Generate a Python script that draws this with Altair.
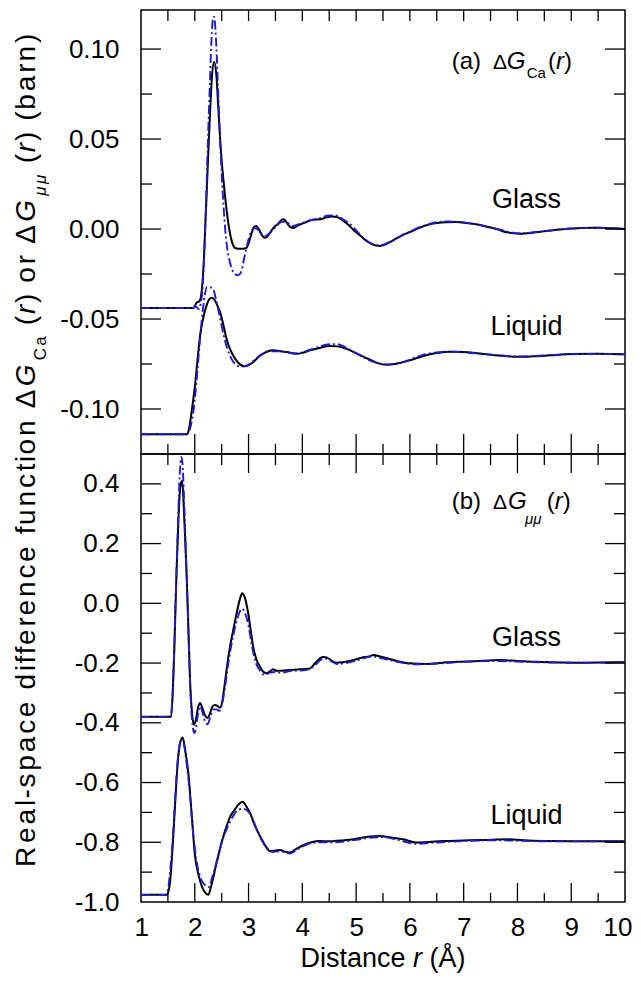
import altair as alt
import pandas as pd

# ---------------- data ----------------
# Panel (a): Delta G_Ca(r)
a_glass_r = [1.00, 1.98, 2.03, 2.09, 2.13, 2.16, 2.20, 2.24, 2.28, 2.32, 2.36, 2.40, 2.44, 2.48, 2.53, 2.59,
             2.64, 2.69, 2.75, 2.85, 2.96, 3.02, 3.06, 3.10, 3.14, 3.19, 3.24, 3.30, 3.34, 3.40, 3.46, 3.55,
             3.62, 3.66, 3.70, 3.78, 3.84, 3.92, 4.00, 4.10, 4.20, 4.33, 4.45, 4.55, 4.65, 4.75, 4.85, 4.95,
             5.07, 5.20, 5.30, 5.44, 5.55, 5.69, 5.85, 6.00, 6.20, 6.43, 6.65, 6.87, 7.05, 7.24, 7.43, 7.61,
             7.80, 8.04, 8.25, 8.48, 8.70, 8.97, 9.20, 9.47, 9.75, 10.0]
a_glass_v = [-0.0439, -0.0439, -0.041, -0.040, -0.034, -0.022, 0.005, 0.034, 0.062, 0.085, 0.093, 0.086,
             0.066, 0.046, 0.028, 0.011, 0.000, -0.007, -0.0105, -0.011, -0.0105, -0.006, -0.002, 0.001,
             0.0017, 0.000, -0.003, -0.0048, -0.0045, -0.002, 0.0005, 0.003, 0.0052, 0.0055, 0.004, 0.001,
             0.0006, 0.002, 0.003, 0.0042, 0.0052, 0.0054, 0.0065, 0.0070, 0.0066, 0.0048, 0.0025, -0.0005,
             -0.0035, -0.0068, -0.0085, -0.0094, -0.0085, -0.0063, -0.0035, -0.0017, 0.0010, 0.0030, 0.0038,
             0.0039, 0.0034, 0.0026, 0.0013, 0.0000, -0.0018, -0.0026, -0.0022, -0.0013, -0.0005, 0.0002,
             0.0006, 0.0007, 0.0004, 0.0000]
a_glass_m_r = [1.00, 1.97, 2.02, 2.07, 2.12, 2.16, 2.20, 2.24, 2.28, 2.31, 2.34, 2.36, 2.39, 2.43, 2.47, 2.52,
               2.58, 2.65, 2.72, 2.80, 2.86, 2.92, 2.98, 3.04, 3.10, 3.16, 3.22, 3.30, 3.40, 3.50, 3.62, 3.70,
               3.80, 3.92, 4.10, 4.30, 4.50, 4.62, 4.75, 4.90, 5.07, 5.25, 5.44, 5.65, 5.90, 6.20, 6.45, 6.70,
               6.90, 7.25, 7.60, 8.04, 8.50, 9.00, 9.50, 10.0]
a_glass_m_v = [-0.0439, -0.0439, -0.0430, -0.0445, -0.040, -0.025, 0.005, 0.045, 0.080, 0.105, 0.117, 0.118,
               0.108, 0.080, 0.050, 0.020, -0.005, -0.018, -0.024, -0.0257, -0.024, -0.016, -0.008, -0.002,
               0.0005, 0.000, -0.002, -0.004, -0.002, 0.001, 0.004, 0.004, 0.0015, 0.0025, 0.0045, 0.0058,
               0.0075, 0.0075, 0.0055, 0.0025, -0.003, -0.0075, -0.009, -0.0068, -0.003, 0.0012, 0.0035,
               0.0042, 0.0040, 0.0026, 0.0002, -0.0024, -0.0012, 0.0003, 0.0007, 0.0]
a_liquid_r = [1.00, 1.85, 1.90, 1.94, 2.00, 2.05, 2.10, 2.16, 2.22, 2.27, 2.32, 2.37, 2.42, 2.47, 2.53, 2.59,
              2.66, 2.75, 2.84, 2.93, 3.01, 3.09, 3.18, 3.27, 3.37, 3.46, 3.58, 3.71, 3.89, 4.00, 4.14, 4.30,
              4.51, 4.65, 4.82, 5.00, 5.25, 5.40, 5.57, 5.75, 6.00, 6.25, 6.50, 6.75, 7.00, 7.25, 7.50, 7.75,
              8.00, 8.30, 8.60, 9.00, 9.50, 10.0]
a_liquid_v = [-0.114, -0.114, -0.110, -0.1017, -0.088, -0.073, -0.059, -0.049, -0.0424, -0.039, -0.0382,
              -0.0395, -0.0425, -0.0461, -0.053, -0.0609, -0.067, -0.0720, -0.0752, -0.0763, -0.0755, -0.0739,
              -0.0712, -0.0693, -0.0678, -0.0674, -0.0678, -0.0683, -0.0693, -0.0688, -0.0674, -0.0662,
              -0.0650, -0.0652, -0.0665, -0.0690, -0.0725, -0.0745, -0.0754, -0.0748, -0.0730, -0.0705,
              -0.0689, -0.0682, -0.0683, -0.0690, -0.0698, -0.0705, -0.0710, -0.0707, -0.0702, -0.0695,
              -0.0693, -0.0696]
a_liquid_m_r = [1.00, 1.86, 1.92, 1.98, 2.04, 2.10, 2.15, 2.19, 2.23, 2.27, 2.31, 2.35, 2.40, 2.46, 2.53, 2.60,
                2.68, 2.77, 2.85, 2.93, 3.02, 3.12, 3.25, 3.40, 3.58, 3.75, 3.90, 4.10, 4.30, 4.50, 4.65, 4.82,
                5.00, 5.30, 5.57, 5.85, 6.20, 6.50, 6.80, 7.20, 7.60, 8.00, 8.60, 9.20, 10.0]
a_liquid_m_v = [-0.114, -0.114, -0.110, -0.100, -0.082, -0.060, -0.045, -0.036, -0.032, -0.0325, -0.0325,
                -0.034, -0.040, -0.048, -0.058, -0.066, -0.072, -0.0755, -0.0765, -0.0762, -0.0750, -0.0725,
                -0.0695, -0.0680, -0.0680, -0.0688, -0.0692, -0.0675, -0.0655, -0.0640, -0.0640, -0.0660,
                -0.0690, -0.0735, -0.0752, -0.0740, -0.0703, -0.0686, -0.0682, -0.0690, -0.0700, -0.0708,
                -0.0701, -0.0694, -0.0696]

# Panel (b): Delta G_mumu(r)
b_glass_r = [1.00, 1.56, 1.59, 1.62, 1.66, 1.70, 1.73, 1.756, 1.78, 1.81, 1.85, 1.88, 1.92, 1.95, 1.985, 2.02,
             2.06, 2.097, 2.14, 2.19, 2.233, 2.28, 2.33, 2.376, 2.43, 2.47, 2.51, 2.55, 2.60, 2.654, 2.72,
             2.778, 2.84, 2.883, 2.93, 2.994, 3.04, 3.087, 3.15, 3.212, 3.27, 3.335, 3.40, 3.459, 3.52, 3.583,
             3.70, 3.85, 3.955, 4.05, 4.14, 4.24, 4.327, 4.40, 4.45, 4.55, 4.637, 4.75, 4.85, 4.947, 5.10,
             5.256, 5.32, 5.45, 5.69, 6.00, 6.31, 6.60, 6.87, 7.20, 7.67, 8.00, 8.35, 8.80, 9.22, 9.60, 10.0]
b_glass_v = [-0.38, -0.38, -0.30, -0.15, 0.10, 0.30, 0.39, 0.41, 0.38, 0.26, 0.09, -0.08, -0.29, -0.37, -0.407,
             -0.39, -0.35, -0.334, -0.35, -0.375, -0.384, -0.37, -0.345, -0.34, -0.345, -0.35, -0.33, -0.28,
             -0.21, -0.146, -0.085, -0.034, 0.015, 0.034, 0.020, -0.034, -0.09, -0.146, -0.19, -0.212, -0.228,
             -0.234, -0.228, -0.221, -0.226, -0.226, -0.224, -0.222, -0.221, -0.220, -0.218, -0.200, -0.184,
             -0.180, -0.181, -0.193, -0.199, -0.197, -0.194, -0.190, -0.182, -0.177, -0.173, -0.178, -0.190,
             -0.201, -0.203, -0.199, -0.196, -0.194, -0.190, -0.193, -0.196, -0.198, -0.199, -0.198, -0.197]
b_glass_m_r = [1.00, 1.55, 1.58, 1.61, 1.65, 1.69, 1.72, 1.75, 1.77, 1.80, 1.84, 1.88, 1.92, 1.96, 1.99, 2.02,
               2.06, 2.10, 2.15, 2.20, 2.24, 2.29, 2.34, 2.40, 2.46, 2.51, 2.56, 2.62, 2.68, 2.75, 2.82, 2.88,
               2.94, 3.00, 3.06, 3.12, 3.20, 3.30, 3.40, 3.50, 3.60, 3.80, 3.95, 4.10, 4.25, 4.35, 4.45, 4.55,
               4.65, 4.80, 5.00, 5.30, 5.50, 5.80, 6.10, 6.40, 6.90, 7.50, 8.00, 8.60, 9.20, 10.0]
b_glass_m_v = [-0.38, -0.38, -0.33, -0.20, 0.05, 0.28, 0.43, 0.49, 0.47, 0.35, 0.14, -0.08, -0.30, -0.41,
               -0.434, -0.42, -0.37, -0.345, -0.37, -0.40, -0.405, -0.38, -0.355, -0.355, -0.36, -0.335,
               -0.285, -0.205, -0.14, -0.08, -0.035, -0.018, -0.035, -0.075, -0.14, -0.19, -0.222, -0.240,
               -0.232, -0.230, -0.232, -0.226, -0.225, -0.222, -0.205, -0.188, -0.186, -0.195, -0.203, -0.200,
               -0.192, -0.178, -0.185, -0.197, -0.204, -0.203, -0.197, -0.193, -0.195, -0.198, -0.199, -0.197]
b_liquid_r = [1.00, 1.48, 1.51, 1.54, 1.58, 1.632, 1.68, 1.73, 1.775, 1.82, 1.88, 1.94, 2.004, 2.07, 2.128,
              2.19, 2.252, 2.30, 2.407, 2.50, 2.592, 2.67, 2.747, 2.82, 2.89, 2.96, 3.025, 3.12, 3.212, 3.30,
              3.397, 3.49, 3.583, 3.68, 3.769, 3.89, 4.016, 4.17, 4.327, 4.50, 4.70, 4.947, 5.10, 5.256, 5.44,
              5.65, 5.876, 6.12, 6.35, 6.62, 7.00, 7.40, 7.80, 8.20, 8.60, 9.20, 10.0]
b_liquid_v = [-0.976, -0.976, -0.965, -0.934, -0.84, -0.679, -0.54, -0.465, -0.449, -0.49, -0.568, -0.70,
              -0.846, -0.91, -0.946, -0.968, -0.976, -0.95, -0.868, -0.80, -0.746, -0.71, -0.69, -0.672,
              -0.664, -0.680, -0.701, -0.745, -0.779, -0.808, -0.829, -0.828, -0.826, -0.832, -0.834, -0.822,
              -0.810, -0.800, -0.796, -0.797, -0.794, -0.790, -0.785, -0.781, -0.779, -0.784, -0.790, -0.801,
              -0.799, -0.796, -0.794, -0.792, -0.790, -0.794, -0.796, -0.797, -0.797]
b_liquid_m_r = [1.00, 1.46, 1.50, 1.54, 1.59, 1.64, 1.69, 1.74, 1.78, 1.83, 1.90, 1.97, 2.04, 2.12, 2.20, 2.26,
                2.32, 2.42, 2.52, 2.62, 2.72, 2.82, 2.90, 2.98, 3.06, 3.15, 3.25, 3.35, 3.45, 3.55, 3.65, 3.77,
                3.90, 4.05, 4.30, 4.60, 5.00, 5.30, 5.50, 5.80, 6.10, 6.40, 7.00, 7.60, 8.20, 9.00, 10.0]
b_liquid_m_v = [-0.976, -0.976, -0.96, -0.90, -0.79, -0.64, -0.51, -0.46, -0.455, -0.51, -0.62, -0.77, -0.87,
                -0.925, -0.945, -0.950, -0.92, -0.855, -0.79, -0.745, -0.71, -0.69, -0.688, -0.695, -0.715,
                -0.755, -0.795, -0.820, -0.833, -0.830, -0.832, -0.838, -0.825, -0.810, -0.800, -0.800, -0.792,
                -0.784, -0.783, -0.793, -0.805, -0.802, -0.796, -0.793, -0.796, -0.797, -0.797]

x_major = [2, 3, 4, 5, 6, 7, 8, 9]
x_minor = [1.5, 2.5, 3.5, 4.5, 5.5, 6.5, 7.5, 8.5, 9.5]
x_labels = [1, 2, 3, 4, 5, 6, 7, 8, 9, 10]
a_y_major = [-0.10, -0.05, 0.0, 0.05, 0.10]
a_y_minor = [-0.075, -0.025, 0.025, 0.075]
b_y_major = [-0.8, -0.6, -0.4, -0.2, 0.0, 0.2, 0.4]
b_y_minor = [-0.9, -0.7, -0.5, -0.3, -0.1, 0.1, 0.3]
b_y_labels = [-1.0, -0.8, -0.6, -0.4, -0.2, 0.0, 0.2, 0.4]

# ---------------- style ----------------
FONT = "Liberation Sans"
W = 484
H_A = 444
H_B = 448
DOM_X = [1, 10]
DOM_A = [-0.125, 0.1217]
DOM_B = [-1.0, 0.5]
BLACK = "#000000"
BLUE = "#1c1cd4"
DASH = [9, 3, 2, 3]

ARIAL_W = {' ': 278, '(': 333, ')': 333, '-': 333, '.': 278, 'R': 722, 'a': 556, 'b': 556, 'c': 500,
           'd': 556, 'e': 556, 'f': 278, 'i': 222, 'l': 222, 'n': 556, 'o': 556, 'p': 556, 'r': 333,
           's': 500, 't': 278, 'u': 556, 'C': 722, 'G': 778, 'Δ': 668, 'μ': 576, 'D': 722, 'Å': 667}


def text_w(t, size):
    return sum(ARIAL_W.get(ch, 556) for ch in t) * size / 1000.0


def seg_layer(text, x, y, size, italic=False, angle=0, align="left"):
    kw = dict(font=FONT, fontSize=size, align=align, baseline="alphabetic", color="black")
    if italic:
        kw["fontStyle"] = "italic"
    if angle:
        kw["angle"] = angle
    return alt.Chart(pd.DataFrame({"t": [text]})).mark_text(**kw).encode(
        x=alt.value(x), y=alt.value(y), text="t:N")


def label_expr(fmt):
    return ("datum.value < 0 ? '-' + format(-datum.value, '%s') : format(datum.value, '%s')" % (fmt, fmt))


def make_panel(H, ydom, xaxis, yaxis, curves, tick_spec, ymaj, ymin):
    xenc = alt.X("r:Q", scale=alt.Scale(domain=DOM_X, nice=False, zero=False), axis=xaxis)
    yenc = alt.Y("v:Q", scale=alt.Scale(domain=ydom, nice=False, zero=False), axis=yaxis)
    layers = []
    for rs, vs, color, dash in curves:
        kw = dict(interpolate="monotone", strokeWidth=2 if dash is None else 1.9, color=color, clip=True)
        if dash is not None:
            kw["strokeDash"] = dash
        layers.append(alt.Chart(pd.DataFrame({"r": rs, "v": vs})).mark_line(**kw).encode(x=xenc, y=yenc))
    top_maj, top_min, bot_maj, bot_min, yl_maj, yl_min = tick_spec
    style = dict(color="black", strokeWidth=1.3)
    for vals, ln in ((x_major, bot_maj), (x_minor, bot_min)):
        layers.append(alt.Chart(pd.DataFrame({"r": vals})).mark_rule(**style).encode(
            x=xenc, y=alt.value(H), y2=alt.value(H - ln)))
    for vals, ln in ((x_major, top_maj), (x_minor, top_min)):
        layers.append(alt.Chart(pd.DataFrame({"r": vals})).mark_rule(**style).encode(
            x=xenc, y=alt.value(0), y2=alt.value(ln)))
    for vals, ln in ((ymaj, yl_maj), (ymin, yl_min)):
        layers.append(alt.Chart(pd.DataFrame({"v": vals})).mark_rule(**style).encode(
            y=yenc, x=alt.value(0), x2=alt.value(ln)))
        layers.append(alt.Chart(pd.DataFrame({"v": vals})).mark_rule(**style).encode(
            y=yenc, x=alt.value(W), x2=alt.value(W - ln)))
    return layers


y_axis_a = alt.Axis(values=a_y_major, labelExpr=label_expr(".2f"), title=None,
                    ticks=False, domain=False, grid=False, labelPadding=22, labelFlush=False,
                    labelFontSize=26, labelFont=FONT, labelColor="black")
y_axis_b = alt.Axis(values=b_y_labels, labelExpr=label_expr(".1f"), title=None,
                    ticks=False, domain=False, grid=False, labelPadding=22, labelFlush=False,
                    labelFontSize=26, labelFont=FONT, labelColor="black")
x_axis_b = alt.Axis(values=x_labels, format="d", title=None, ticks=False, domain=False, grid=False,
                    labelPadding=12, labelFlush=True, labelFlushOffset=7, labelFontSize=26,
                    labelFont=FONT, labelColor="black")

# ---------------- panel (a) ----------------
layers_a = make_panel(
    H_A, DOM_A, None, y_axis_a,
    [(a_glass_r, a_glass_v, BLACK, None), (a_liquid_r, a_liquid_v, BLACK, None),
     (a_glass_m_r, a_glass_m_v, BLUE, DASH), (a_liquid_m_r, a_liquid_m_v, BLUE, DASH)],
    (11, 11, 20, 10, 20, 11), a_y_major, a_y_minor)

layers_a += [
    seg_layer("(a)", 310.7, 59, 24),
    seg_layer("Δ", 352, 59, 21),
    seg_layer("G", 365.7, 59, 24, italic=True),
    seg_layer("Ca", 385.7, 68, 15),
    seg_layer("(", 407, 59, 24),
    seg_layer("r", 415, 59, 24, italic=True),
    seg_layer(")", 423, 59, 24),
    seg_layer("Glass", 385.5, 198, 27, align="center"),
    seg_layer("Liquid", 385.5, 325, 27, align="center"),
]

# rotated y-axis title, letter-spaced like the reference, spanning both panels
TS, SS = 28, 17
title_segs = [
    ("Real-space difference function Δ", TS, False, False),
    ("G", TS, True, False),
    ("Ca", SS, False, True),
    (" (", TS, False, False),
    ("r", TS, True, False),
    (") or Δ", TS, False, False),
    ("G", TS, True, False),
    ("μμ", SS, True, True),
    (" (", TS, False, False),
    ("r", TS, True, False),
    (") (barn)", TS, False, False),
]
natural = sum(text_w(t, s) for t, s, _, _ in title_segs)
k = 835.0 / natural
y_cur = 439.5 + natural * k / 2.0
for t, s, it, sub in title_segs:
    for ch in t:
        if ch != " ":
            layers_a.append(seg_layer(ch, -95 if sub else -106, y_cur, s, italic=it, angle=270))
        y_cur -= text_w(ch, s) * k

panel_a = alt.layer(*layers_a).properties(width=W, height=H_A)

# ---------------- panel (b) ----------------
layers_b = make_panel(
    H_B, DOM_B, x_axis_b, y_axis_b,
    [(b_glass_r, b_glass_v, BLACK, None), (b_liquid_r, b_liquid_v, BLACK, None),
     (b_glass_m_r, b_glass_m_v, BLUE, DASH), (b_liquid_m_r, b_liquid_m_v, BLUE, DASH)],
    (19, 11, 19, 9, 20, 11), b_y_major, b_y_minor)

layers_b += [
    seg_layer("(b)", 310.7, 55, 24),
    seg_layer("Δ", 352, 55, 21),
    seg_layer("G", 367, 55, 24, italic=True),
    seg_layer("μμ", 384, 70, 15, italic=True),
    seg_layer("(", 405.7, 55, 24),
    seg_layer("r", 413.7, 55, 24, italic=True),
    seg_layer(")", 421.7, 55, 24),
    seg_layer("Glass", 385.5, 192, 27, align="center"),
    seg_layer("Liquid", 385.5, 370, 27, align="center"),
]
# x-axis title with italic r
xt = [("Distance", False, " "), ("r", True, " "), ("(Å)", False, "")]
xt_total = sum(text_w(t + sp, 27) for t, _, sp in xt)
x_cur = 242 - xt_total / 2.0
for t, it, sp in xt:
    layers_b.append(seg_layer(t, x_cur, 513, 27, italic=it))
    x_cur += text_w(t + sp, 27)

panel_b = alt.layer(*layers_b).properties(width=W, height=H_B)

chart = alt.vconcat(panel_a, panel_b, spacing=0, bounds="flush").properties(
    padding={"left": 4, "top": 0, "right": 0, "bottom": 0}
).configure(font=FONT).configure_view(stroke="black", strokeWidth=1.5)

chart.save("out.html", embed_options={"renderer": "svg", "actions": False})
